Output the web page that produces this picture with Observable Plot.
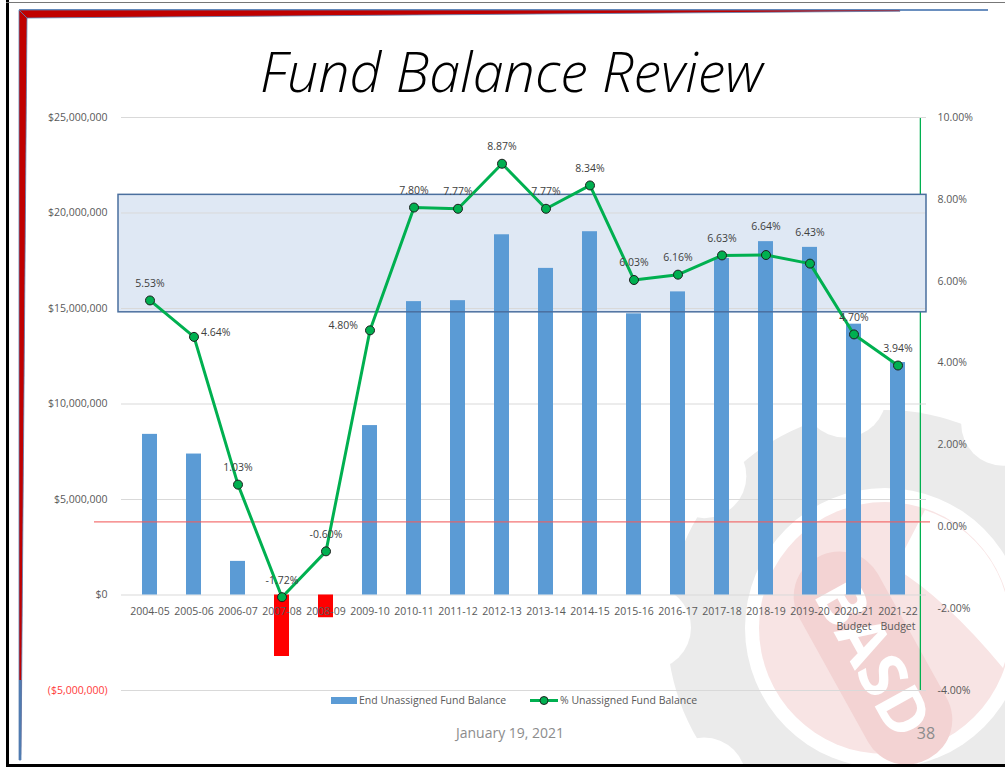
<!DOCTYPE html>
<html>
<head>
<meta charset="utf-8">
<script src="https://cdn.jsdelivr.net/npm/d3@7"></script>
<script src="https://cdn.jsdelivr.net/npm/@observablehq/plot@0.6"></script>
<style>
  html, body { margin: 0; padding: 0; background: #fff; }
  #page { position: relative; width: 1005px; height: 767px; overflow: hidden; font-family: "Open Sans", sans-serif; }
  #bg { position: absolute; left: 0; top: 0; z-index: 0; }
  #title { position: relative; z-index: 1; height: 100px; }
  #title svg { overflow: visible; display: block; }
  #chart { position: relative; z-index: 1; height: 667px; }
  .abs { position: absolute; z-index: 2; white-space: nowrap; }
  .legtxt { font-size: 10.5px; color: #595959; line-height: 14px; }
</style>
</head>
<body>
<div id="page">
  <svg id="bg" width="1005" height="767">
    <!-- watermark -->
    <g id="wm" transform="translate(885,628)"></g>
    <!-- slide frame decoration -->
    <rect x="6" y="0" width="3" height="767" fill="#000"/>
    <rect x="6" y="764" width="999" height="3" fill="#000"/>
    <rect x="6" y="2" width="999" height="1" fill="#777"/>
    <line x1="19" y1="10" x2="988" y2="10" stroke="#6a8fbf" stroke-width="2"/>
    <polygon points="19,10 900,10 900,11.2 27,18" fill="#c00000" stroke="#5b80b2" stroke-width="0.8"/>
    <polygon points="19,10 27,18 21,760 19,760" fill="#c00000" stroke="#5b80b2" stroke-width="0.8"/>
    <polygon points="19,680 21.6,680 21,760 19,760" fill="#4f7bb0"/>
  </svg>
  <div id="title">
    <svg width="1005" height="100">
      <text x="260" y="92" textLength="503" lengthAdjust="spacingAndGlyphs"
            font-family="'Open Sans', sans-serif" font-style="italic" font-weight="300" font-size="55" fill="#000">Fund Balance Review</text>
    </svg>
  </div>
  <div id="chart"></div>

  <div class="abs" style="left:331px; top:697px; width:26px; height:7px; background:#5b9bd5;"></div>
  <div class="abs legtxt" style="left:359px; top:693px;">End Unassigned Fund Balance</div>
  <svg class="abs" style="left:528px; top:694px;" width="32" height="13">
    <line x1="2" y1="6.5" x2="30" y2="6.5" stroke="#00b050" stroke-width="3"/>
    <circle cx="16" cy="6.5" r="4" fill="#00b050" stroke="#222" stroke-width="1"/>
  </svg>
  <div class="abs legtxt" style="left:560px; top:693px;">% Unassigned Fund Balance</div>

  <div class="abs" style="left:410px; width:200px; top:723px; text-align:center; font-size:14px; color:#8c8c8c;">January 19, 2021</div>
  <div class="abs" style="left:906px; width:40px; top:722px; text-align:center; font-size:16px; color:#8c8c8c;">38</div>
</div>

<script>
// ---------- data ----------
const years = ["2004-05", "2005-06", "2006-07", "2007-08", "2008-09", "2009-10", "2010-11", "2011-12", "2012-13",
               "2013-14", "2014-15", "2015-16", "2016-17", "2017-18", "2018-19", "2019-20", "2020-21 Budget", "2021-22 Budget"];
const balances = [8.41e6, 7.38e6, 1.76e6, -3.22e6, -1.19e6, 8.87e6, 15.36e6, 15.41e6, 18.86e6,
                  17.10e6, 19.02e6, 14.72e6, 15.87e6, 17.62e6, 18.50e6, 18.20e6, 14.18e6, 12.17e6];
const pcts = [5.53, 4.64, 1.03, -1.72, -0.60, 4.80, 7.80, 7.77, 8.87,
              7.77, 8.34, 6.03, 6.16, 6.63, 6.64, 6.43, 4.70, 3.94];
const dollarTicks = [-5e6, 0, 5e6, 10e6, 15e6, 20e6, 25e6];
const pctTicks = [-4, -2, 0, 2, 4, 6, 8, 10];
const targetBand = [14.8e6, 20.95e6];   // highlighted box (left-axis units)
const redLinePct = 0.12;                 // red reference line (right-axis units)

// ---------- helpers ----------
const rows = years.map((year, i) => ({year, balance: balances[i], pct: pcts[i]}));
const y2 = d3.scaleLinear().domain([pctTicks[0], pctTicks[pctTicks.length - 1]])
                            .range([dollarTicks[0], dollarTicks[dollarTicks.length - 1]]);
const fmtDollar = v => v < 0 ? `(${d3.format("$,")(-v)})` : d3.format("$,")(v);
const fmtPct = v => v.toFixed(2) + "%";

const W = 1005, H = 667, mL = 121, mR = 79, mT = 17, mB = 77;
const step = (W - mL - mR) / years.length;

// label placement around points
const placement = {"2005-06": "right", "2009-10": "left", "2018-19": "high", "2019-20": "higher"};
const place = d => placement[d.year] || "above";
const lblOpts = {x: "year", y: d => y2(d.pct), text: d => fmtPct(d.pct), fill: "#404040", fontSize: 10.5};

const plot = Plot.plot({
  width: W, height: H,
  marginTop: mT, marginBottom: mB, marginLeft: mL, marginRight: mR,
  style: {background: "transparent", fontFamily: "'Open Sans', sans-serif", fontSize: "10.5px", color: "#595959", overflow: "visible"},
  x: {type: "band", domain: years, paddingInner: 0.67, paddingOuter: 0.335, axis: null},
  y: {domain: [dollarTicks[0], dollarTicks[dollarTicks.length - 1]], label: null},
  marks: [
    Plot.ruleX([years[years.length - 1]], {dx: step / 2, stroke: "#00b050", strokeWidth: 1.3}),
    Plot.rect([targetBand], {y1: d => d[0], y2: d => d[1], fill: "#dfe8f4", insetLeft: -3}),
    Plot.gridY(dollarTicks, {stroke: "#d9d9d9", strokeOpacity: 1, strokeWidth: 1}),
    Plot.barY(rows, {x: "year", y: "balance", fill: d => d.balance < 0 ? "#ff0000" : "#5b9bd5"}),
    Plot.ruleY([y2(redLinePct)], {stroke: "#f25c5c", strokeOpacity: 0.85, strokeWidth: 1.2, insetLeft: -27, insetRight: -4}),
    Plot.rect([targetBand], {y1: d => d[0], y2: d => d[1], fill: "none", stroke: "#4a6f9e", strokeWidth: 1.5, insetLeft: -3}),
    Plot.line(rows, {x: "year", y: d => y2(d.pct), stroke: "#00b050", strokeWidth: 3}),
    Plot.dot(rows, {x: "year", y: d => y2(d.pct), r: 4.5, fill: "#00b050", stroke: "#1e1e1e", strokeWidth: 1}),
    Plot.text(rows.filter(d => place(d) === "above"), {...lblOpts, dy: -17}),
    Plot.text(rows.filter(d => place(d) === "high"), {...lblOpts, dy: -28}),
    Plot.text(rows.filter(d => place(d) === "higher"), {...lblOpts, dy: -31}),
    Plot.text(rows.filter(d => place(d) === "right"), {...lblOpts, dx: 7, dy: -4, textAnchor: "start"}),
    Plot.text(rows.filter(d => place(d) === "left"), {...lblOpts, dx: -12, dy: -5, textAnchor: "end"}),
    Plot.text(rows, {x: "year", y: () => 0, text: d => d.year.replace(" ", "\n"), lineAnchor: "top", dy: 9, lineHeight: 1.43, fill: "#595959", fontSize: 10.5}),
    Plot.axisY(dollarTicks.filter(v => v >= 0), {anchor: "left", tickSize: 0, tickPadding: 14, tickFormat: fmtDollar, label: null, color: "#595959"}),
    Plot.axisY(dollarTicks.filter(v => v < 0), {anchor: "left", tickSize: 0, tickPadding: 14, tickFormat: fmtDollar, label: null, color: "#ff3b3b"}),
    Plot.axisY(pctTicks, {anchor: "right", y: y2, tickSize: 0, tickPadding: 11, tickFormat: fmtPct, label: null, color: "#595959"})
  ]
});
document.getElementById("chart").appendChild(plot);

// ---------- watermark (decoration) ----------
(function () {
  const ns = "http://www.w3.org/2000/svg";
  const g = document.getElementById("wm");
  const add = (tag, attrs, parent = g) => {
    const el = document.createElementNS(ns, tag);
    for (const k in attrs) el.setAttribute(k, attrs[k]);
    parent.appendChild(el);
    return el;
  };
  add("circle", {r: 218, fill: "#ebebeb"});
  for (let i = 0; i < 9; i++) {
    const a = (i / 9) * 2 * Math.PI + 0.35;
    add("circle", {cx: 236 * Math.cos(a), cy: 236 * Math.sin(a), r: 42, fill: "#fff"});
  }
  add("circle", {r: 140, fill: "#fff"});
  add("circle", {r: 126, fill: "#f8e4e4"});
  add("path", {d: "M 40 -118 A 123 123 0 0 1 118 40 Q 60 -30 10 -60 Z", fill: "#fff"});
  const t = add("g", {transform: "translate(-12,30) rotate(61)"});
  add("rect", {x: -115, y: -45, width: 230, height: 90, rx: 44, fill: "#f3d3d3"}, t);
  const tx = add("text", {x: 0, y: 22, "text-anchor": "middle", "font-family": "'Open Sans', sans-serif",
    "font-weight": "bold", "font-size": 64, fill: "#fff"}, t);
  tx.textContent = "BASD";
})();
</script>
</body>
</html>
